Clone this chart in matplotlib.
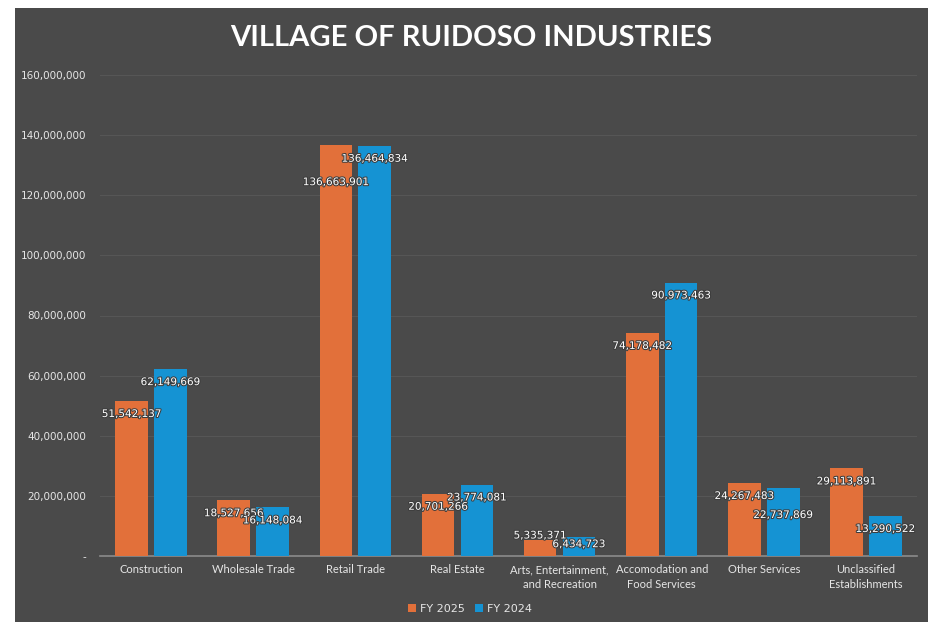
import numpy as np
import matplotlib
matplotlib.use("Agg")
import matplotlib.pyplot as plt
import matplotlib.patheffects as pe
from matplotlib.ticker import FuncFormatter

categories = [
    "Construction",
    "Wholesale Trade",
    "Retail Trade",
    "Real Estate",
    "Arts, Entertainment,\nand Recreation",
    "Accomodation and\nFood Services",
    "Other Services",
    "Unclassified\nEstablishments",
]
fy2025 = [51542137, 18527656, 136663901, 20701266, 5335371, 74178482, 24267483, 29113891]
fy2024 = [62149669, 16148084, 136464834, 23774081, 6434723, 90973463, 22737869, 13290522]
series_names = ["FY 2025", "FY 2024"]

ORANGE = "#E2703A"
BLUE = "#1593D3"
PANEL = "#4a4a4a"
TEXT = "#e6e6e6"

fig = plt.figure(figsize=(9.33, 6.26), dpi=100)
fig.patch.set_facecolor("white")

# dark slide panel behind the chart
bg = fig.add_axes([15 / 933, 1 - 622 / 626, (928 - 15) / 933, (622 - 8) / 626], zorder=-1)
bg.set_facecolor(PANEL)
bg.set_xticks([])
bg.set_yticks([])
for s in bg.spines.values():
    s.set_visible(False)

ax = fig.add_axes([100 / 933, 1 - 556 / 626, (917 - 100) / 933, (556 - 75) / 626])
ax.set_facecolor("none")

x = np.arange(len(categories))
w = 0.32
off = 0.19
b1 = ax.bar(x - off, fy2025, w, color=ORANGE, label=series_names[0], zorder=3)
b2 = ax.bar(x + off, fy2024, w, color=BLUE, label=series_names[1], zorder=3)

ax.set_xlim(-0.5, len(categories) - 0.5)
ax.set_ylim(0, 160_000_000)
ax.set_yticks(np.arange(0, 160_000_001, 20_000_000))
ax.yaxis.set_major_formatter(FuncFormatter(lambda v, p: "-" if v == 0 else f"{int(v):,}"))
ax.grid(axis="y", color="#565656", linewidth=0.8, zorder=1)
ax.tick_params(axis="y", length=0, labelsize=7.5, labelcolor=TEXT, pad=10)
ax.tick_params(axis="x", length=0, labelsize=8, labelcolor=TEXT, pad=6)
ax.set_xticks(x)
ax.set_xticklabels(categories, family="Lato", linespacing=1.4)
for s in ["top", "right", "left"]:
    ax.spines[s].set_visible(False)
ax.spines["bottom"].set_color("#8c8c8c")
ax.spines["bottom"].set_linewidth(1.2)

shadow = [pe.withStroke(linewidth=1.5, foreground="#3c3c3c")]
for i in range(len(categories)):
    v1, v2 = fy2025[i], fy2024[i]
    if v1 < 8_000_000 and v2 < 8_000_000:
        # short bars: labels sit around the bar tops, staggered
        y1, y2 = v1 + 1_500_000, v2 - 2_500_000
    else:
        y1, y2 = v1 - 4_300_000, v2 - 4_300_000
        # Excel shifts one label down when the pair would sit at almost the same height
        diff = abs(v1 - v2)
        if diff < 1_000_000:
            y1 -= 8_000_000
        elif diff < 2_000_000:
            if v1 < v2:
                y1 -= 4_800_000
            else:
                y2 -= 4_800_000
    for bar, v, ypos in [(b1[i], v1, y1), (b2[i], v2, y2)]:
        ax.text(bar.get_x() + bar.get_width() / 2, ypos, f"{v:,}",
                ha="center", va="center", color="white", fontsize=7.5,
                path_effects=shadow, zorder=5)

fig.text(471 / 933, 1 - 38 / 626, "VILLAGE OF RUIDOSO INDUSTRIES", ha="center", va="center",
         color="white", fontsize=21, fontweight="bold", family="Lato")

fig.legend(handles=[b1, b2], labels=series_names, loc="center",
           bbox_to_anchor=(470 / 933, 1 - 609 / 626), ncol=2, frameon=False,
           fontsize=8, labelcolor=TEXT, handlelength=0.7, handleheight=0.7,
           handletextpad=0.3, columnspacing=1.0)

fig.savefig("out.png", dpi=100, facecolor=fig.get_facecolor())
